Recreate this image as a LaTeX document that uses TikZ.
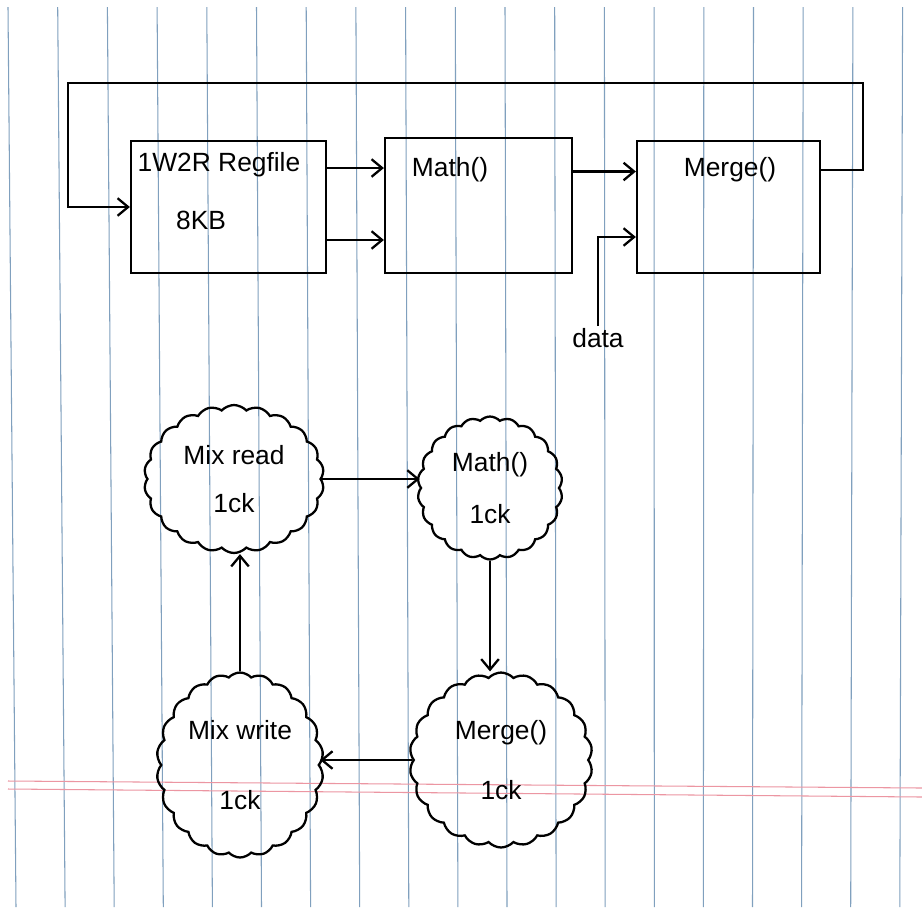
\documentclass[tikz,border=0pt]{standalone}
\usepackage{fontspec}
\setmainfont{Liberation Sans}
\usetikzlibrary{arrows.meta,shapes.symbols,calc}
\definecolor{rulingblue}{RGB}{128,160,190}
\definecolor{rulingred}{RGB}{236,150,162}
\newcommand{\handfont}{\fontsize{15}{18}\selectfont}
\tikzset{
  ink/.style={line width=1.3pt, black},
  blockbox/.style={draw, ink, inner sep=0pt},
  cloudnode/.style={cloud, draw, ink, cloud puffs=22, cloud puff arc=95,
    cloud ignores aspect, align=center, font=\handfont, inner sep=0pt},
  handtext/.style={font=\handfont, inner sep=1pt},
}
\begin{document}
\begin{tikzpicture}[x=0.02cm, y=-0.02cm, >={Straight Barb[length=6pt,width=10pt]}]
    \useasboundingbox (0,0) rectangle (922,907);
    \fill[white] (0,0) rectangle (922,907);

    % Lined paper
    \foreach \i in {0,...,18}
      \draw[rulingblue, line width=0.6pt] ({8+49.7*\i},7) -- ({16+49.1*\i},907);
    \draw[rulingred, line width=0.6pt] (8,781) -- (922,788);
    \draw[rulingred, line width=0.6pt] (8,789) -- (922,797);

    % Upper block diagram
    \node[blockbox, minimum width=3.9cm, minimum height=2.64cm] (regfile) at (228.5,207) {};
    \node[handtext] (regname) at (219,165) {1W2R Regfile};
    \node[handtext] (regsize) at (201,220) {8KB};

    \node[blockbox, minimum width=3.74cm, minimum height=2.7cm] (math) at (478.5,205.5) {};
    \node[handtext] (mathname) at (450,170) {Math()};

    \node[blockbox, minimum width=3.66cm, minimum height=2.64cm] (merge) at (728.5,207) {};
    \node[handtext] (mergename) at (730,170) {Merge()};

    \draw[ink, ->] ([yshift=0.78cm]regfile.east) -- ([yshift=0.78cm]regfile.east -| math.west);
    \draw[ink, ->] ([yshift=-0.66cm]regfile.east) -- ([yshift=-0.66cm]regfile.east -| math.west);
    \draw[ink, ->] ([yshift=0.68cm]math.east) -- ([yshift=0.68cm]math.east -| merge.west);

    % Feedback loop
    \coordinate (loopR) at (863,83);
    \coordinate (loopL) at (68,83);
    \draw[ink, ->] ([yshift=0.74cm]merge.east) -| (loopR) -- (loopL) |- (regfile.west);

    % Data input
    \node[handtext, anchor=north] (datalbl) at (598,326) {data};
    \draw[ink, ->] (datalbl.north) |- ([yshift=-0.6cm]merge.west);

    % Pipeline clouds
    \node[cloudnode, minimum width=3.6cm, minimum height=2.96cm] (mixrd) at (234,479)
         {Mix read\\[9pt]1ck};
    \node[cloudnode, minimum width=2.9cm, minimum height=2.86cm] (mathc) at (490,488)
         {Math()\\[12pt]1ck};
    \node[cloudnode, minimum width=3.66cm, minimum height=3.5cm] (mergec) at (501,760)
         {Merge()\\[16pt]1ck};
    \node[cloudnode, minimum width=3.34cm, minimum height=3.7cm] (mixwr) at (240,765)
         {Mix write\\[22pt]1ck};

    \draw[ink, ->] (mixrd.east) -- (mixrd.east -| mathc.west);
    \draw[ink, ->] (mathc.south) -- (mathc.south |- mergec.north);
    \draw[ink, ->] (mergec.west) -- (mergec.west -| mixwr.east);
    \draw[ink, ->] (mixwr.north) -- (mixwr.north |- mixrd.south);
\end{tikzpicture}
\end{document}
